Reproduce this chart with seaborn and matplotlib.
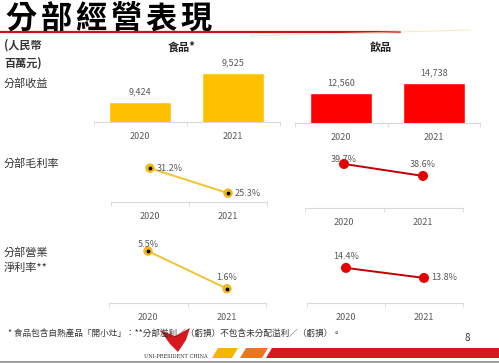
import matplotlib
matplotlib.use("Agg")
import matplotlib.pyplot as plt
from matplotlib.patches import Polygon
import seaborn as sns

sns.set_theme(style="white")
plt.rcParams["font.family"] = ["Noto Sans CJK TC", "DejaVu Sans"]

# ---- data ----
years = ["2020", "2021"]
food_revenue = [9424, 9525]
drink_revenue = [12560, 14738]
food_gross_margin = [31.2, 25.3]
drink_gross_margin = [39.7, 38.6]
food_op_margin = [5.5, 1.6]
drink_op_margin = [14.4, 13.8]

title = "分部經營表現"
unit_label = "(人民幣\n百萬元)"
food_label = "食品*"
drink_label = "飲品"
row_labels = ["分部收益", "分部毛利率", "分部營業\n淨利率**"]
footnote = "* 食品包含自熱產品「開小灶」：**分部溢利／（虧損）不包含未分配溢利／（虧損）。"

W, H = 499, 363
YELLOW = "#FFC000"
RED = "#FF0000"
GREY_TXT = "#595959"

fig = plt.figure(figsize=(W / 100, H / 100), dpi=100)
fig.patch.set_facecolor("white")


def ax_at(x0, y0, x1, y1):
    return fig.add_axes([x0 / W, 1 - y1 / H, (x1 - x0) / W, (y1 - y0) / H])


def ftext(x, y, s, **kw):
    fig.text(x / W, 1 - y / H, s, **kw)


def style_axis(ax, ylim):
    ax.set_xlim(-0.5, 1.5)
    ax.set_ylim(*ylim)
    for side in ["left", "right", "top"]:
        ax.spines[side].set_visible(False)
    ax.spines["bottom"].set_color("#D9D9D9")
    ax.spines["bottom"].set_linewidth(0.8)
    ax.set_yticks([])
    ax.set_xlabel("")
    ax.set_ylabel("")
    ax.set_facecolor("none")
    ax.set_xticks([-0.5, 0.5, 1.5], minor=True)
    ax.tick_params(axis="x", which="major", length=0, pad=7, labelsize=6.5, labelcolor=GREY_TXT)
    ax.tick_params(axis="x", which="minor", length=3, width=0.6, color="#D9D9D9", bottom=True)


def bar_panel(box, vals, color, ylim, fmt):
    ax = ax_at(*box)
    sns.barplot(x=years, y=vals, color=color, width=0.67, saturation=1, ax=ax)
    style_axis(ax, ylim)
    for i, v in enumerate(vals):
        ax.annotate(fmt(v), (i, v), xytext=(0, 4), textcoords="offset points",
                    ha="center", va="bottom", fontsize=6.5, color=GREY_TXT)
    return ax


def line_panel(box, vals, color, line_color, ylim, label_pos, dot=False):
    ax = ax_at(*box)
    sns.pointplot(x=years, y=vals, color=line_color, markers="o", linestyles="-",
                  linewidth=1.4, markersize=0, ax=ax)
    ax.scatter([0, 1], vals, s=46 if dot else 52, color=color, zorder=5, edgecolor="none")
    if dot:
        ax.scatter([0, 1], vals, s=3, color="black", zorder=6)
    style_axis(ax, ylim)
    for i, (v, pos) in enumerate(zip(vals, label_pos)):
        if pos == "right":
            ax.annotate(f"{v:.1f}%", (i, v), xytext=(5, 0), textcoords="offset points",
                        ha="left", va="center", fontsize=6.5, color=GREY_TXT, zorder=7)
        else:
            ax.annotate(f"{v:.1f}%", (i, v), xytext=(0, pos), textcoords="offset points",
                        ha="center", va="center", fontsize=6.5, color=GREY_TXT, zorder=7)
    return ax


# ---- header ----
for i, ch in enumerate(title):
    ftext(21 + 35 * i, 19, ch, fontsize=22.5, fontweight="bold", color="black",
          va="center", ha="center")
fig.add_artist(plt.Line2D([0, 400 / W], [1 - 32 / H, 1 - 32 / H], color="#D0101B", lw=1.6))
fig.add_artist(plt.Line2D([250 / W, 470 / W], [1 - 36 / H, 1 - 30 / H], color="#F3E3B0", lw=0.8, alpha=0.7))
ftext(4, 54, unit_label, fontsize=8, fontweight="bold", style="italic", color="#333333",
      va="center", ha="left", linespacing=1.5)
ftext(182, 47, food_label, fontsize=8, fontweight="bold", color="#222222", va="center", ha="center")
ftext(381, 47, drink_label, fontsize=8, fontweight="bold", color="#222222", va="center", ha="center")
ftext(4, 84, row_labels[0], fontsize=8, color="#333333", va="center", ha="left")
ftext(4, 164, row_labels[1], fontsize=8, color="#333333", va="center", ha="left")
ftext(4, 260, row_labels[2], fontsize=8, color="#333333", va="center", ha="left", linespacing=1.5)

# ---- revenue bars ----
bar_panel((93.5, 55, 279.5, 122), food_revenue, YELLOW, (9354, 9587), lambda v: f"{v:,}")
bar_panel((295, 55, 480, 123), drink_revenue, RED, (6025, 20840), lambda v: f"{v:,}")

# ---- gross margin ----
line_panel((111, 150, 267, 202), food_gross_margin, "#F2B81C", "#EFC431", (23.2, 35.5),
           ["right", "right"], dot=True)
line_panel((304.5, 150, 462.5, 208), drink_gross_margin, "#E50000", "#C00000", (35.66, 40.98),
           [3, 8])

# ---- operating margin ----
line_panel((108.5, 240, 266.5, 303), food_op_margin, "#F2B81C", "#EFC431", (0.12, 6.65),
           [5, 8], dot=True)
line_panel((307, 240, 463, 303), drink_op_margin, "#E50000", "#C00000", (12.3, 16.07),
           [8, "right"])

# ---- footer ----
ftext(8, 333, footnote, fontsize=6.2, style="italic", color="#333333", va="center", ha="left")
ftext(467, 338, "8", fontsize=7, color="#333333", va="center", ha="center")


def fpoly(pts, color):
    fig.add_artist(Polygon([(x / W, 1 - y / H) for x, y in pts], closed=True,
                           facecolor=color, edgecolor="none", transform=fig.transFigure))


fpoly([(218, 348), (238, 348), (232, 358), (212, 358)], "#F5B400")
fpoly([(246, 348), (268, 348), (262, 358), (240, 358)], "#E87722")
fpoly([(272, 348), (499, 348), (499, 358), (266, 358)], "#D7191F")
# simplified logo mark
fpoly([(160, 330), (175, 336), (190, 328), (186, 340), (178, 352), (170, 344)], "#D7191F")
ftext(176, 357, "UNI-PRESIDENT CHINA", fontsize=3.6, family=["DejaVu Serif"], color="#333333",
      va="center", ha="center")
fig.add_artist(plt.Line2D([0, 1], [1 - 362 / H, 1 - 362 / H], color="#8C8C8C", lw=1.2))

fig.savefig("out.png", dpi=100)
